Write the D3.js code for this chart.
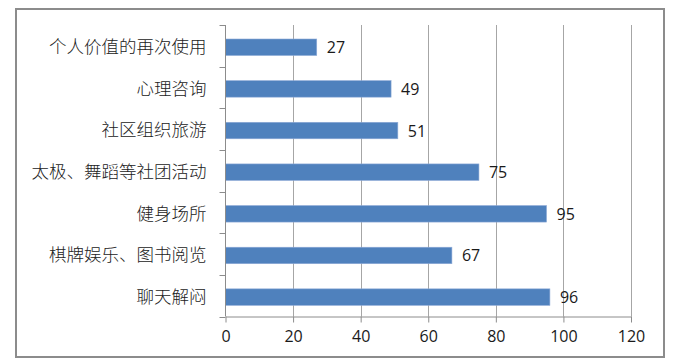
<!DOCTYPE html>
<html><head><meta charset="utf-8">
<script src="https://cdn.jsdelivr.net/npm/d3@7"></script>
<style>body{margin:0;background:#fff}svg{display:block}</style>
</head><body>
<script>
const categories = ["个人价值的再次使用","心理咨询","社区组织旅游","太极、舞蹈等社团活动","健身场所","棋牌娱乐、图书阅览","聊天解闷"];
const values = [27,49,51,75,95,67,96];
const xTicks = [0,20,40,60,80,100,120];

const W=682,H=361;
const svg=d3.select("body").append("svg").attr("width",W).attr("height",H);
svg.append("rect").attr("width",W).attr("height",H).attr("fill","#fff");
svg.append("rect").attr("x",16).attr("y",9).attr("width",648).attr("height",348)
  .attr("fill","#fff").attr("stroke","#8c8c8c").attr("stroke-width",2);

const pL=225.5,pR=631,pT=25,pB=316.5;
const x=d3.scaleLinear().domain([0,120]).range([pL,pR]);
const yb=d3.scaleBand().domain(categories).range([pT,pB]);

// gridlines
svg.append("g").selectAll("line").data(xTicks.slice(1)).join("line")
  .attr("x1",d=>Math.round(x(d))+0.5).attr("x2",d=>Math.round(x(d))+0.5)
  .attr("y1",pT).attr("y2",pB).attr("stroke","#a6a6a6").attr("stroke-width",1);

// bars
svg.append("g").selectAll("rect").data(categories).join("rect")
  .attr("x",x(0)).attr("y",d=>yb(d)+14).attr("height",16.5)
  .attr("width",(d,i)=>x(values[i])-x(0))
  .attr("fill","#4f81bd").attr("stroke","#8eaad6").attr("stroke-width",0.6);

// value labels
svg.append("g").selectAll("text").data(categories).join("text")
  .attr("x",(d,i)=>x(values[i])+10).attr("y",d=>yb(d)+22.5)
  .attr("dy","0.36em").text((d,i)=>values[i])
  .attr("font-family","'Open Sans', 'Noto Sans', sans-serif").attr("font-size",16).attr("fill","#1a1a1a");

// x axis
const xa=svg.append("g").attr("transform",`translate(0,${pB})`)
  .call(d3.axisBottom(x).tickValues(xTicks).tickSize(6).tickSizeOuter(0).tickPadding(8));
xa.select(".domain").attr("stroke","#8c8c8c");
xa.selectAll(".tick line").attr("stroke","#8c8c8c");
xa.selectAll("text").attr("font-family","'Open Sans', 'Noto Sans', sans-serif").attr("font-size",16).attr("fill","#1a1a1a");

// y axis
const ya=svg.append("g").attr("transform",`translate(${pL},0)`);
ya.append("line").attr("x1",0).attr("x2",0).attr("y1",pT).attr("y2",pB).attr("stroke","#8c8c8c");
const bounds=categories.map(c=>yb(c)).concat([pB]);
ya.selectAll("line.t").data(bounds).join("line").attr("class","t")
  .attr("x1",-6).attr("x2",0).attr("y1",d=>Math.round(d)+0.5).attr("y2",d=>Math.round(d)+0.5).attr("stroke","#8c8c8c");
ya.selectAll("text").data(categories).join("text")
  .attr("x",-19).attr("y",d=>yb(d)+yb.bandwidth()/2+1).attr("dy","0.36em")
  .attr("text-anchor","end").text(d=>d)
  .attr("font-family","'Noto Sans CJK SC', sans-serif").attr("font-weight",300).attr("font-size",17.5).attr("fill","#222");
</script>
</body></html>
